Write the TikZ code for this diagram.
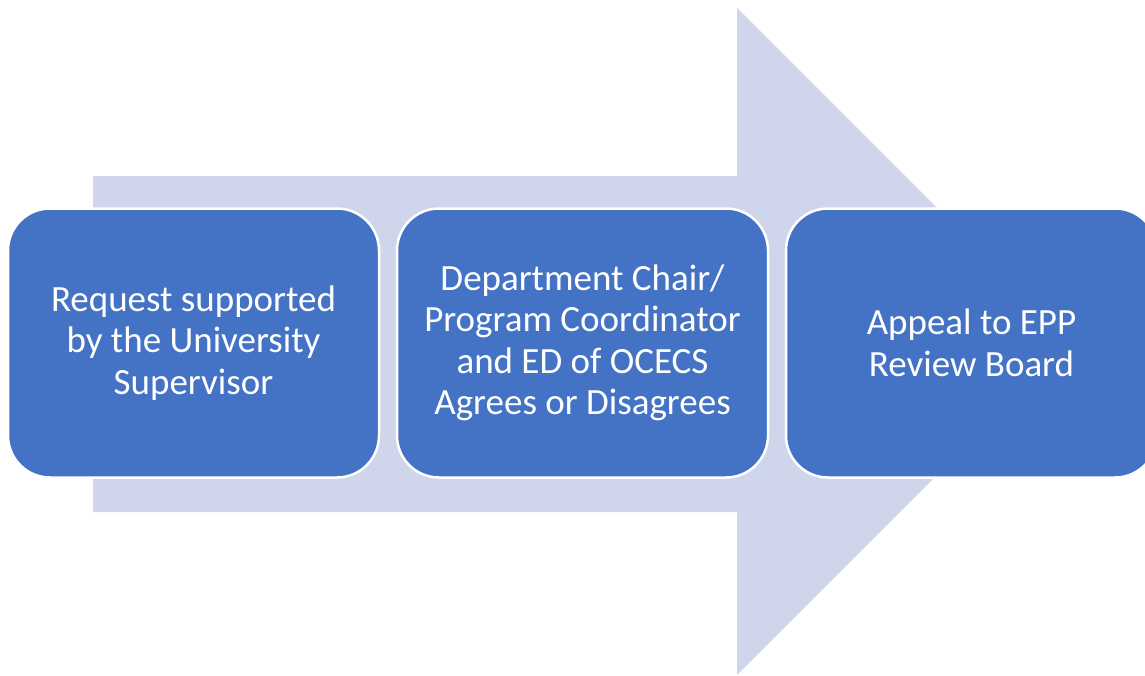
\documentclass[tikz,border=0pt]{standalone}
\usepackage{fontspec}
\setmainfont{Carlito}
\usetikzlibrary{positioning}
\definecolor{arrowFill}{HTML}{CFD5EA}
\definecolor{boxFill}{HTML}{4472C4}
\begin{document}
\begin{tikzpicture}[
        x=1pt, y=-1pt,
        node distance=15.5pt,
        stepBox/.style={rectangle, rounded corners=42pt, fill=boxFill, draw=white, line width=2.5pt,
            minimum width=371pt, minimum height=269pt, inner sep=0pt, align=center,
            text=white, font=\fontsize{37}{41.5}\selectfont},
        bigArrow/.style={fill=arrowFill, draw=none}
    ]
        \path[use as bounding box, clip] (0,0) rectangle (1145,675);

        % Background arrow
        \fill[bigArrow] (93,176) -- (737,176) -- (737,8) -- (1070.5,341.5)
            -- (737,675) -- (737,512) -- (93,512) -- cycle;

        % Steps
        \node[stepBox] (request) at (193.5,343) {Request supported\\by the University\\Supervisor};
        \node[stepBox, right=of request] (chair) {Department Chair/\\Program Coordinator\\and ED of OCECS\\Agrees or Disagrees};
        \node[stepBox, right=of chair] (appeal) {Appeal to EPP\\Review Board};
    \end{tikzpicture}
\end{document}
